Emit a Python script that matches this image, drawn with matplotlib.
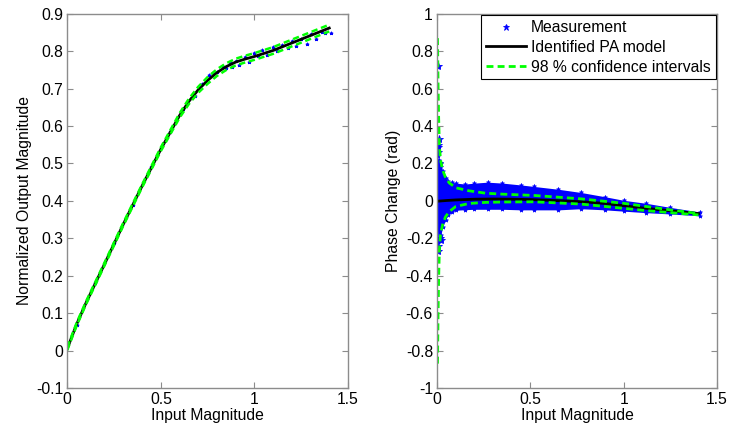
import matplotlib
matplotlib.use("Agg")
import matplotlib.pyplot as plt
from matplotlib.ticker import FuncFormatter
from matplotlib.lines import Line2D

plt.rcParams["font.family"] = ["Liberation Sans", "DejaVu Sans"]
plt.rcParams["axes.unicode_minus"] = False

# ---- left panel: AM/AM ----
mag_x = [0.0, 0.05, 0.1, 0.2, 0.3, 0.4, 0.5, 0.6, 0.65, 0.7, 0.75, 0.8, 0.85,
         0.9, 0.95, 1.0, 1.1, 1.2, 1.3, 1.4]
mag_model = [0.005, 0.07, 0.127, 0.232, 0.338, 0.44, 0.538, 0.628, 0.666, 0.697,
             0.722, 0.743, 0.759, 0.771, 0.779, 0.786, 0.802, 0.822, 0.842, 0.862]
mag_ci_up = [0.009, 0.074, 0.131, 0.236, 0.342, 0.444, 0.543, 0.634, 0.673, 0.705,
             0.731, 0.752, 0.768, 0.780, 0.788, 0.795, 0.811, 0.831, 0.851, 0.871]
mag_ci_lo = [0.001, 0.066, 0.123, 0.228, 0.334, 0.436, 0.533, 0.622, 0.659, 0.689,
             0.713, 0.734, 0.750, 0.762, 0.770, 0.777, 0.793, 0.813, 0.833, 0.853]
mag_meas_x = [0.05, 0.15, 0.25, 0.35, 0.45, 0.55, 0.62, 0.68, 0.72, 0.76, 0.78,
              0.8, 0.83, 0.85, 0.87, 0.88, 0.9, 0.92, 0.95, 0.97, 1.0, 1.02, 1.04,
              1.07, 1.1, 1.12, 1.15, 1.18, 1.2, 1.22, 1.25, 1.28, 1.3, 1.33, 1.36,
              1.38, 1.41]
mag_meas_y = [0.068, 0.18, 0.287, 0.39, 0.49, 0.585, 0.645, 0.68, 0.713, 0.737,
              0.742, 0.745, 0.757, 0.756, 0.772, 0.758, 0.775, 0.764, 0.785, 0.772,
              0.796, 0.786, 0.803, 0.79, 0.81, 0.8, 0.818, 0.808, 0.827, 0.813,
              0.834, 0.82, 0.845, 0.834, 0.852, 0.848, 0.85]

# ---- right panel: AM/PM ----
ph_x = [0.0, 0.05, 0.1, 0.2, 0.3, 0.4, 0.5, 0.6, 0.7, 0.8, 0.9, 1.0, 1.1, 1.2,
        1.3, 1.4]
ph_model = [-0.002, 0.002, 0.005, 0.009, 0.01, 0.009, 0.007, 0.003, -0.001,
            -0.006, -0.014, -0.026, -0.038, -0.048, -0.058, -0.068]
ci_x = [0.002, 0.005, 0.008, 0.012, 0.018, 0.029, 0.045, 0.065, 0.1, 0.17, 0.26,
        0.35, 0.52, 0.77, 1.0, 1.12, 1.25, 1.4]
ph_ci_up = [0.87, 0.62, 0.45, 0.3, 0.22, 0.166, 0.125, 0.096, 0.07, 0.054, 0.041,
            0.036, 0.029, 0.011, -0.013, -0.03, -0.048, -0.068]
ph_ci_lo = [-0.87, -0.6, -0.42, -0.26, -0.18, -0.128, -0.085, -0.057, -0.03,
            -0.014, -0.008, -0.006, -0.005, -0.017, -0.04, -0.052, -0.063, -0.075]
band_x = [0.0, 0.004, 0.01, 0.02, 0.03, 0.045, 0.06, 0.08, 0.1, 0.15, 0.2, 0.27,
          0.35, 0.45, 0.52, 0.65, 0.77, 0.9, 1.0, 1.12, 1.25, 1.41]
band_up = [0.1, 0.24, 0.22, 0.2, 0.16, 0.12, 0.105, 0.1, 0.095, 0.09, 0.095, 0.1,
           0.095, 0.085, 0.077, 0.062, 0.045, 0.022, 0.003, -0.013, -0.035, -0.06]
band_lo = [-0.1, -0.22, -0.21, -0.18, -0.14, -0.1, -0.075, -0.06, -0.05, -0.047,
           -0.045, -0.045, -0.045, -0.048, -0.048, -0.048, -0.042, -0.048, -0.055,
           -0.063, -0.07, -0.08]
outlier_x = [0.003, 0.008, 0.006, 0.005, 0.01, 0.004, 0.015, 0.02, 0.012, 0.002,
             0.007]
outlier_y = [0.72, 0.33, 0.29, 0.26, 0.2, -0.27, -0.2, -0.21, 0.18, 0.3, -0.24]

BLUE = "#0000ff"
GREEN = "#00ff00"
SPINE = "#8c8c8c"
FS = 11.3


def style(ax, ylim, yticks):
    ax.set_xlim(0, 1.5)
    ax.set_ylim(*ylim)
    ax.set_xticks([0, 0.5, 1, 1.5])
    ax.set_yticks(yticks)
    fmt = FuncFormatter(lambda v, p: "%g" % round(v, 2))
    ax.xaxis.set_major_formatter(fmt)
    ax.yaxis.set_major_formatter(fmt)
    ax.tick_params(direction="in", length=4, width=0.8, color=SPINE,
                   top=True, right=True, labelsize=FS, pad=3)
    for s in ax.spines.values():
        s.set_color(SPINE)
        s.set_linewidth(1.0)
    ax.set_xlabel("Input Magnitude", fontsize=FS, labelpad=1)


fig = plt.figure(figsize=(7.31, 4.32), dpi=100)
ax1 = fig.add_axes([0.092, 0.102, 0.384, 0.866])
ax2 = fig.add_axes([0.598, 0.102, 0.383, 0.866])

# measurement, model, then confidence bounds on top (same order as the legend)
ax1.plot(mag_meas_x, mag_meas_y, "*", color=BLUE, ms=2.5, mew=0.6)
ax1.plot(mag_x, mag_model, "-", color="black", lw=2)
ax1.plot(mag_x, mag_ci_up, "--", color=GREEN, lw=1.8, dashes=(2.5, 1.5))
ax1.plot(mag_x, mag_ci_lo, "--", color=GREEN, lw=1.8, dashes=(2.5, 1.5))
style(ax1, (-0.1, 0.9), [-0.1, 0, 0.1, 0.2, 0.3, 0.4, 0.5, 0.6, 0.7, 0.8, 0.9])
ax1.set_ylabel("Normalized Output Magnitude", fontsize=FS, labelpad=3)

ax2.fill_between(band_x, band_lo, band_up, color=BLUE, lw=0)
ax2.plot(band_x, band_up, "*", color=BLUE, ms=3, mew=0.5)
ax2.plot(band_x, band_lo, "*", color=BLUE, ms=3, mew=0.5)
ax2.plot(outlier_x, outlier_y, "*", color=BLUE, ms=6, mew=0.6)
ax2.plot(ph_x, ph_model, "-", color="black", lw=2)
ax2.plot(ci_x, ph_ci_up, "--", color=GREEN, lw=2, dashes=(2.5, 1.5))
ax2.plot(ci_x, ph_ci_lo, "--", color=GREEN, lw=2, dashes=(2.5, 1.5))
style(ax2, (-1, 1), [-1, -0.8, -0.6, -0.4, -0.2, 0, 0.2, 0.4, 0.6, 0.8, 1])
ax2.set_ylabel("Phase Change (rad)", fontsize=FS, labelpad=3)

handles = [
    Line2D([], [], ls="none", marker="*", color=BLUE, ms=5, mew=0.6),
    Line2D([], [], color="black", lw=2),
    Line2D([], [], color=GREEN, lw=2, ls="--", dashes=(2.5, 1.5)),
]
leg = ax2.legend(handles, ["Measurement", "Identified PA model",
                           "98 % confidence intervals"],
                 loc="upper right", fontsize=FS, fancybox=False, framealpha=1,
                 borderaxespad=0.1, handlelength=2.6, handletextpad=0.3,
                 labelspacing=0.3, borderpad=0.3)
leg.get_frame().set_edgecolor("black")
leg.get_frame().set_linewidth(0.8)

fig.savefig("out.png", dpi=100)
